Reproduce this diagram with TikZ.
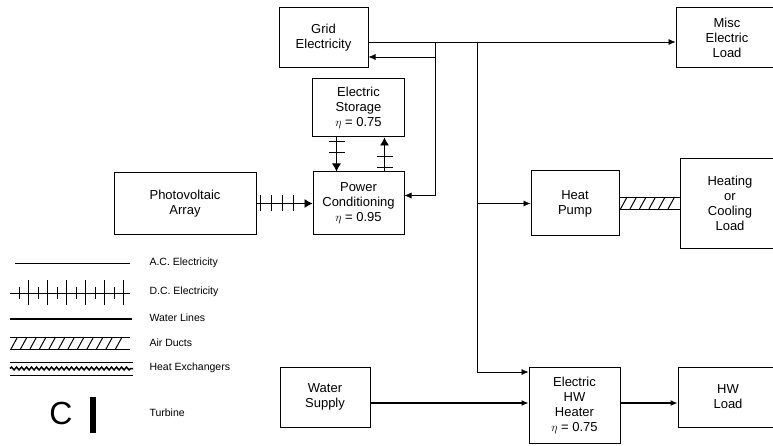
\documentclass[tikz,border=0pt]{standalone}
\usepackage{fontspec}
\setsansfont{Liberation Sans}
\usetikzlibrary{arrows.meta,positioning,decorations.markings,decorations.pathmorphing}

\begin{document}
\begin{tikzpicture}[
  x=1pt, y=1pt,
  box/.style={draw, line width=1pt, align=center, font=\sffamily\fontsize{13}{15}\selectfont},
  legend/.style={anchor=west, font=\sffamily\fontsize{10.5}{12}\selectfont},
  arrow/.style={-{Latex[length=7pt, width=6pt]}},
  acline/.style={arrow, semithick},
  waterline/.style={arrow, line width=1.1pt},
  dcline/.style={-{Latex[length=8pt, width=9pt]}, thick, postaction={decorate, decoration={markings,
    mark=between positions 4pt and -14pt step 11pt with {\draw[-, semithick] (0,-8pt) -- (0,8pt);}}}},
  airduct/.style={line width=1pt, double distance=11pt, postaction={decorate, decoration={markings,
    mark=between positions 4pt and -4pt step 9.5pt with {\draw[-, line width=1pt] (-3pt,-5.5pt) -- (3pt,5.5pt);}}}}
]
\clip (0,0) rectangle (773,-446);
\fill[white] (0,0) rectangle (773,-446);

\node[box, minimum width=89pt, minimum height=60pt] (grid) at (323.5,-38) {Grid\\Electricity};
\node[box, minimum width=91pt, minimum height=63pt] (pc) at (358.5,-203.5) {Power\\Conditioning\\$\eta$ = 0.95};
\node[box, minimum width=92pt, minimum height=58pt, above=34pt of pc] (storage) {Electric\\Storage\\$\eta$ = 0.75};
\node[box, minimum width=142pt, minimum height=62pt, left=56pt of pc] (pv) {Photovoltaic\\Array};
\node[box, minimum width=88pt, minimum height=65pt, right=126pt of pc] (pump) {Heat\\Pump};
\node[box, minimum width=100pt, minimum height=90pt, right=60pt of pump] (heatload) {Heating\\or\\Cooling\\Load};
\node[box, minimum width=102pt, minimum height=60pt] (misc) at (727,-38) {Misc\\Electric\\Load};
\node[box, minimum width=90pt, minimum height=60pt] (water) at (325,-397) {Water\\Supply};
\node[box, minimum width=91pt, minimum height=76pt] (heater) at (574.5,-405) {Electric\\HW\\Heater\\$\eta$ = 0.75};
\node[box, minimum width=100pt, minimum height=60pt] (hwload) at (728,-397) {HW\\Load};

% electric connections
\coordinate (gridout) at ([yshift=-4pt]grid.east);
\coordinate (gridin) at ([yshift=-19pt]grid.east);
\coordinate (jA) at (435,-42);
\coordinate (jB) at (477,-42);
\coordinate (heatin) at ([yshift=33pt]heater.west);
\coordinate (win) at ([yshift=-6pt]water.east);

\draw[acline] (gridout) -- (gridout -| misc.west);
\draw[acline] (jA) |- ([yshift=8pt]pc.east);
\draw[acline] (jA |- gridin) -- (gridin);
\draw[acline] (jB) |- (heatin);
\draw[acline] (jB |- pump.west) -- (pump.west);

\draw[dcline] (pv.east |- pc.west) -- (pc.west);
\draw[dcline] ([xshift=-22pt]storage.south) -- ([xshift=-22pt]storage.south |- pc.north);
\draw[dcline] ([xshift=26pt]storage.south |- pc.north) -- ([xshift=26pt]storage.south);

\draw[airduct] (pump.east) -- (heatload.west);

\draw[waterline] (win) -- (win -| heater.west);
\draw[waterline] (win -| heater.east) -- (win -| hwload.west);

% legend
\draw[semithick] (15,-263) -- (130,-263);
\node[legend] (lac) at (146,-263) {A.C. Electricity};
\draw[thick] (10,-293) -- (130,-293);
\foreach \x in {28,47,...,123} \draw[semithick] (\x,-280) -- (\x,-305);
\foreach \x in {19,38,...,114} \draw[semithick] (\x,-287) -- (\x,-299);
\node[legend] (ldc) at (146,-292) {D.C. Electricity};
\draw[line width=1.1pt] (10,-319) -- (132,-319);
\node[legend] (lwater) at (146,-318) {Water Lines};
\draw[airduct] (10,-343.5) -- (130,-343.5);
\node[legend] (lair) at (146,-343) {Air Ducts};
\draw[semithick] (10,-362) -- (133,-362);
\draw[semithick] (10,-375) -- (133,-375);
\draw[line width=1.5pt, decorate, decoration={snake, amplitude=1.4pt, segment length=5pt}] (10,-368.5) -- (133,-368.5);
\node[legend] (lhx) at (146,-368) {Heat Exchangers};
\node[inner sep=0pt, font=\sffamily\fontsize{32}{32}\selectfont] (turbC) at (61,-413.5) {C};
\draw[line width=6pt] (93,-397) -- (93,-433);
\node[legend] (lturb) at (146,-413) {Turbine};
\end{tikzpicture}
\end{document}
